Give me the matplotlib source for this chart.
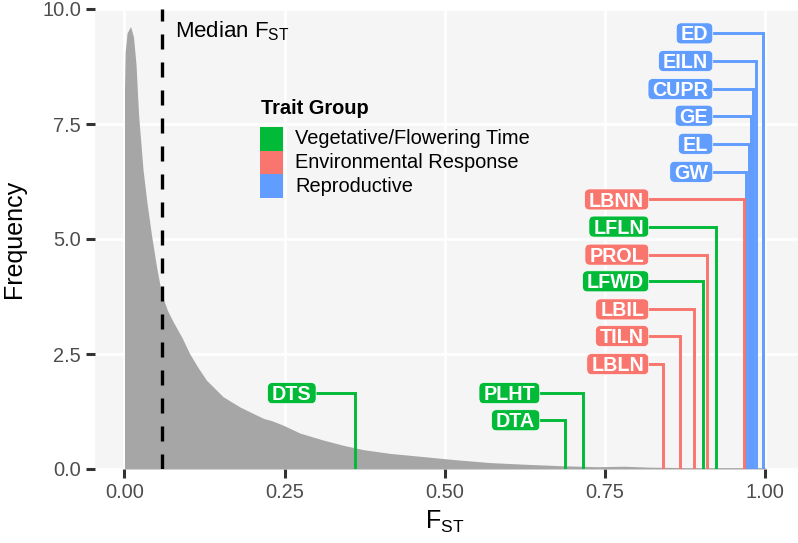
import matplotlib
matplotlib.use("Agg")
from matplotlib import pyplot as plt
from matplotlib.patches import Rectangle, FancyBboxPatch
from matplotlib.transforms import IdentityTransform

plt.rcParams["font.family"] = ["Liberation Sans", "DejaVu Sans"]
plt.rcParams["mathtext.default"] = "regular"

# genome-wide Fst density
fst_grid = [0.000, 0.001, 0.004, 0.0095, 0.014, 0.018, 0.022, 0.029, 0.035,
            0.042, 0.050, 0.058, 0.067, 0.076, 0.090, 0.102, 0.115, 0.128,
            0.154, 0.180, 0.205, 0.217, 0.230, 0.248, 0.274, 0.310, 0.340,
            0.373, 0.414, 0.466, 0.518, 0.570, 0.630, 0.685, 0.737, 0.780,
            0.820, 0.880, 0.940, 1.000]
fst_density = [8.2, 9.05, 9.48, 9.62, 9.4, 8.8, 7.7, 6.5, 5.8,
               5.1, 4.4, 3.8, 3.45, 3.2, 2.85, 2.5, 2.2, 1.93,
               1.57, 1.35, 1.18, 1.10, 1.05, 0.95, 0.78, 0.63, 0.52,
               0.42, 0.34, 0.27, 0.20, 0.14, 0.10, 0.07, 0.05, 0.06,
               0.04, 0.03, 0.03, 0.03]

median_fst = 0.059

traits = ["ED", "EILN", "CUPR", "GE", "EL", "GW", "LBNN", "LFLN", "PROL",
          "LFWD", "LBIL", "TILN", "LBLN", "DTS", "PLHT", "DTA"]
trait_fst = [0.997, 0.986, 0.981, 0.977, 0.974, 0.970, 0.966, 0.923, 0.909,
             0.903, 0.888, 0.867, 0.840, 0.359, 0.715, 0.687]
trait_group = ["Reproductive"] * 6 + [
    "Environmental Response", "Vegetative/Flowering Time", "Environmental Response",
    "Vegetative/Flowering Time", "Environmental Response", "Environmental Response",
    "Environmental Response", "Vegetative/Flowering Time", "Vegetative/Flowering Time",
    "Vegetative/Flowering Time",
]

group_names = ["Vegetative/Flowering Time", "Environmental Response", "Reproductive"]
group_colors = ["#00BA38", "#F8766D", "#619CFF"]

# where the repelled labels ended up: right edge of box, box centre
label_right = [0.918] * 6 + [0.818] * 7 + [0.299, 0.648, 0.648]
label_y = [9.47, 8.87, 8.26, 7.68, 7.07, 6.46, 5.86, 5.27, 4.66,
           4.08, 3.47, 2.89, 2.28, 1.65, 1.65, 1.06]

color_of = dict(zip(group_names, group_colors))

fig = plt.figure(figsize=(7.98, 5.43), dpi=100)
ax = fig.add_axes([95 / 798, 74 / 543, 703 / 798, 460 / 543])
ax.set_facecolor("#F5F5F5")
ax.set_xlim(-0.046, 1.051)
ax.set_ylim(0, 10)
for s in ax.spines.values():
    s.set_visible(False)
ax.grid(color="white", linewidth=2)
ax.set_axisbelow(True)

ax.set_xticks([0, 0.25, 0.5, 0.75, 1.0])
ax.set_xticklabels(["0.00", "0.25", "0.50", "0.75", "1.00"])
ax.set_yticks([0, 2.5, 5, 7.5, 10])
ax.set_yticklabels(["0.0", "2.5", "5.0", "7.5", "10.0"])
ax.tick_params(length=6.5, width=2.2, color="#333333", labelcolor="#4D4D4D",
               labelsize=14.4, pad=3.5)

ax.fill_between(fst_grid, fst_density, color="#A6A6A6", linewidth=0, zorder=2)
ax.axvline(median_fst, color="black", linewidth=2.4, dashes=(4.5, 3.9), zorder=3)
ax.text(0.079, 9.51, "Median $F_{ST}$", fontsize=16, va="center", zorder=5)

# leader lines: out of the label, across, then down to the axis
for x, xr, y, g in zip(trait_fst, label_right, label_y, trait_group):
    ax.plot([xr, x, x], [y, y, 0], color=color_of[g], linewidth=2.1,
            solid_joinstyle="miter", zorder=4)

pad_px = 4.5
texts = []
for name, xr, y in zip(traits, label_right, label_y):
    t = ax.annotate(name, xy=(xr, y), xytext=(-pad_px * 0.72, -5.1),
                    textcoords="offset points", ha="right", va="baseline",
                    fontsize=14.2, fontweight="bold", color="white", zorder=7)
    texts.append(t)

fig.canvas.draw()
r = fig.canvas.get_renderer()
for t, xr, y, g in zip(texts, label_right, label_y, trait_group):
    bb = t.get_window_extent(r)
    px_r, px_y = ax.transData.transform((xr, y))
    box = FancyBboxPatch((bb.x0 - pad_px, px_y - 10.5), px_r - bb.x0 + pad_px, 21,
                         boxstyle="round,pad=0,rounding_size=5",
                         facecolor=color_of[g], edgecolor="white", linewidth=0.5,
                         transform=IdentityTransform(), zorder=6)
    ax.add_artist(box)


# legend drawn by hand so the keys touch like ggplot's
def ax_xy(px, py):
    return (px - 95) / 703, (469 - py) / 460


ax.text(*ax_xy(261, 108), "Trait Group", transform=ax.transAxes, fontsize=14.4,
        fontweight="bold", va="center", zorder=5)
for i, (n, c) in enumerate(zip(group_names, group_colors)):
    top = 127 + 23.6 * i
    ax.add_patch(Rectangle(ax_xy(260, top + 23.6), 23 / 703, 23.6 / 460,
                           transform=ax.transAxes, facecolor=c, edgecolor="none",
                           zorder=5))
    ax.text(*ax_xy(295, top + 12), n, transform=ax.transAxes, fontsize=14.4,
            va="center", zorder=5)

fig.text(14 / 798, (543 - 239) / 543, "Frequency", fontsize=18, rotation=90,
         ha="center", va="center")
fig.text(445 / 798, (543 - 522) / 543, "$F_{ST}$", fontsize=18,
         ha="center", va="center")

fig.savefig("out.png", dpi=100)
